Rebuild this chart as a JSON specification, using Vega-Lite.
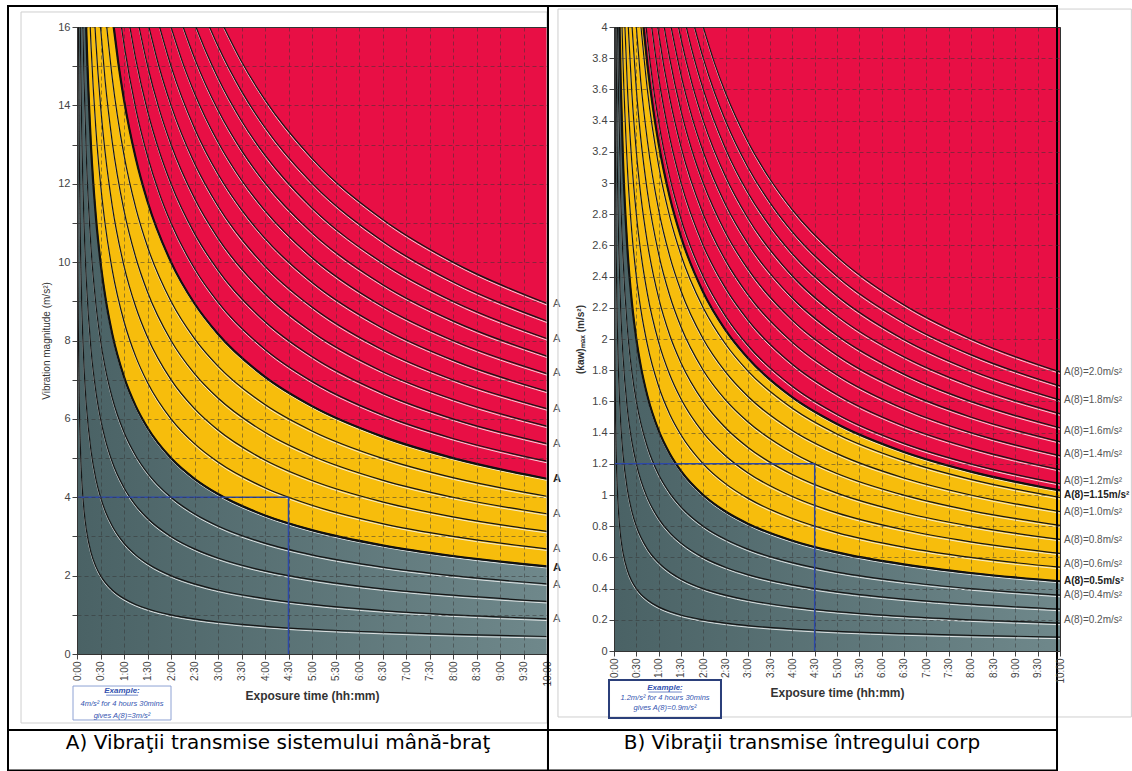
{
"$schema": "https://vega.github.io/schema/vega-lite/v6.json",
"padding": {"left": 6, "top": 4, "right": 0, "bottom": 0},
"bounds": "flush",
"spacing": 67,
"config": {"view": {"stroke": null}, "font": "Liberation Sans",
  "axis": {"labelColor": "#444", "tickColor": "#444", "domainColor": "#333", "gridColor": "#333", "gridOpacity": 0.5, "gridDash": [4, 3], "labelFontSize": 11, "tickSize": 5, "titleColor": "#333", "labelOverlap": false}},
"datasets": {
"L": [
{"k":0.5,"t":0.0078,"v":16},{"k":0.5,"t":0.01,"v":14.142},{"k":0.5,"t":0.02,"v":10},{"k":0.5,"t":0.03,"v":8.165},{"k":0.5,"t":0.05,"v":6.325},{"k":0.5,"t":0.075,"v":5.164},{"k":0.5,"t":0.1,"v":4.472},{"k":0.5,"t":0.15,"v":3.651},{"k":0.5,"t":0.2,"v":3.162},{"k":0.5,"t":0.3,"v":2.582},{"k":0.5,"t":0.4,"v":2.236},{"k":0.5,"t":0.5,"v":2},{"k":0.5,"t":0.6,"v":1.826},{"k":0.5,"t":0.75,"v":1.633},{"k":0.5,"t":1,"v":1.414},{"k":0.5,"t":1.25,"v":1.265},{"k":0.5,"t":1.5,"v":1.155},{"k":0.5,"t":2,"v":1},{"k":0.5,"t":2.5,"v":0.894},{"k":0.5,"t":3,"v":0.816},{"k":0.5,"t":4,"v":0.707},{"k":0.5,"t":5,"v":0.632},{"k":0.5,"t":6.5,"v":0.555},{"k":0.5,"t":8,"v":0.5},{"k":0.5,"t":10,"v":0.447},
{"k":1,"t":0.03125,"v":16},{"k":1,"t":0.05,"v":12.649},{"k":1,"t":0.075,"v":10.328},{"k":1,"t":0.1,"v":8.944},{"k":1,"t":0.15,"v":7.303},{"k":1,"t":0.2,"v":6.325},{"k":1,"t":0.3,"v":5.164},{"k":1,"t":0.4,"v":4.472},{"k":1,"t":0.5,"v":4},{"k":1,"t":0.6,"v":3.651},{"k":1,"t":0.75,"v":3.266},{"k":1,"t":1,"v":2.828},{"k":1,"t":1.25,"v":2.53},{"k":1,"t":1.5,"v":2.309},{"k":1,"t":2,"v":2},{"k":1,"t":2.5,"v":1.789},{"k":1,"t":3,"v":1.633},{"k":1,"t":4,"v":1.414},{"k":1,"t":5,"v":1.265},{"k":1,"t":6.5,"v":1.109},{"k":1,"t":8,"v":1},{"k":1,"t":10,"v":0.894},
{"k":1.5,"t":0.0703,"v":16},{"k":1.5,"t":0.075,"v":15.492},{"k":1.5,"t":0.1,"v":13.416},{"k":1.5,"t":0.15,"v":10.954},{"k":1.5,"t":0.2,"v":9.487},{"k":1.5,"t":0.3,"v":7.746},{"k":1.5,"t":0.4,"v":6.708},{"k":1.5,"t":0.5,"v":6},{"k":1.5,"t":0.6,"v":5.477},{"k":1.5,"t":0.75,"v":4.899},{"k":1.5,"t":1,"v":4.243},{"k":1.5,"t":1.25,"v":3.795},{"k":1.5,"t":1.5,"v":3.464},{"k":1.5,"t":2,"v":3},{"k":1.5,"t":2.5,"v":2.683},{"k":1.5,"t":3,"v":2.449},{"k":1.5,"t":4,"v":2.121},{"k":1.5,"t":5,"v":1.897},{"k":1.5,"t":6.5,"v":1.664},{"k":1.5,"t":8,"v":1.5},{"k":1.5,"t":10,"v":1.342},
{"k":2,"t":0.125,"v":16},{"k":2,"t":0.15,"v":14.606},{"k":2,"t":0.2,"v":12.649},{"k":2,"t":0.3,"v":10.328},{"k":2,"t":0.4,"v":8.944},{"k":2,"t":0.5,"v":8},{"k":2,"t":0.6,"v":7.303},{"k":2,"t":0.75,"v":6.532},{"k":2,"t":1,"v":5.657},{"k":2,"t":1.25,"v":5.06},{"k":2,"t":1.5,"v":4.619},{"k":2,"t":2,"v":4},{"k":2,"t":2.5,"v":3.578},{"k":2,"t":3,"v":3.266},{"k":2,"t":4,"v":2.828},{"k":2,"t":5,"v":2.53},{"k":2,"t":6.5,"v":2.219},{"k":2,"t":8,"v":2},{"k":2,"t":10,"v":1.789},
{"k":2.5,"t":0.1953,"v":16},{"k":2.5,"t":0.2,"v":15.811},{"k":2.5,"t":0.3,"v":12.91},{"k":2.5,"t":0.4,"v":11.18},{"k":2.5,"t":0.5,"v":10},{"k":2.5,"t":0.6,"v":9.129},{"k":2.5,"t":0.75,"v":8.165},{"k":2.5,"t":1,"v":7.071},{"k":2.5,"t":1.25,"v":6.325},{"k":2.5,"t":1.5,"v":5.774},{"k":2.5,"t":2,"v":5},{"k":2.5,"t":2.5,"v":4.472},{"k":2.5,"t":3,"v":4.082},{"k":2.5,"t":4,"v":3.536},{"k":2.5,"t":5,"v":3.162},{"k":2.5,"t":6.5,"v":2.774},{"k":2.5,"t":8,"v":2.5},{"k":2.5,"t":10,"v":2.236},
{"k":3,"t":0.28125,"v":16},{"k":3,"t":0.3,"v":15.492},{"k":3,"t":0.4,"v":13.416},{"k":3,"t":0.5,"v":12},{"k":3,"t":0.6,"v":10.954},{"k":3,"t":0.75,"v":9.798},{"k":3,"t":1,"v":8.485},{"k":3,"t":1.25,"v":7.589},{"k":3,"t":1.5,"v":6.928},{"k":3,"t":2,"v":6},{"k":3,"t":2.5,"v":5.367},{"k":3,"t":3,"v":4.899},{"k":3,"t":4,"v":4.243},{"k":3,"t":5,"v":3.795},{"k":3,"t":6.5,"v":3.328},{"k":3,"t":8,"v":3},{"k":3,"t":10,"v":2.683},
{"k":3.5,"t":0.3828,"v":16},{"k":3.5,"t":0.4,"v":15.652},{"k":3.5,"t":0.5,"v":14},{"k":3.5,"t":0.6,"v":12.78},{"k":3.5,"t":0.75,"v":11.431},{"k":3.5,"t":1,"v":9.899},{"k":3.5,"t":1.25,"v":8.854},{"k":3.5,"t":1.5,"v":8.083},{"k":3.5,"t":2,"v":7},{"k":3.5,"t":2.5,"v":6.261},{"k":3.5,"t":3,"v":5.715},{"k":3.5,"t":4,"v":4.95},{"k":3.5,"t":5,"v":4.427},{"k":3.5,"t":6.5,"v":3.883},{"k":3.5,"t":8,"v":3.5},{"k":3.5,"t":10,"v":3.13},
{"k":4,"t":0.5,"v":16},{"k":4,"t":0.6,"v":14.606},{"k":4,"t":0.75,"v":13.064},{"k":4,"t":1,"v":11.314},{"k":4,"t":1.25,"v":10.119},{"k":4,"t":1.5,"v":9.238},{"k":4,"t":2,"v":8},{"k":4,"t":2.5,"v":7.155},{"k":4,"t":3,"v":6.532},{"k":4,"t":4,"v":5.657},{"k":4,"t":5,"v":5.06},{"k":4,"t":6.5,"v":4.438},{"k":4,"t":8,"v":4},{"k":4,"t":10,"v":3.578},
{"k":4.5,"t":0.6328,"v":16},{"k":4.5,"t":0.75,"v":14.697},{"k":4.5,"t":1,"v":12.728},{"k":4.5,"t":1.25,"v":11.384},{"k":4.5,"t":1.5,"v":10.392},{"k":4.5,"t":2,"v":9},{"k":4.5,"t":2.5,"v":8.05},{"k":4.5,"t":3,"v":7.348},{"k":4.5,"t":4,"v":6.364},{"k":4.5,"t":5,"v":5.692},{"k":4.5,"t":6.5,"v":4.992},{"k":4.5,"t":8,"v":4.5},{"k":4.5,"t":10,"v":4.025},
{"k":5,"t":0.78125,"v":16},{"k":5,"t":0.875,"v":15.119},{"k":5,"t":1,"v":14.142},{"k":5,"t":1.25,"v":12.649},{"k":5,"t":1.5,"v":11.547},{"k":5,"t":2,"v":10},{"k":5,"t":2.5,"v":8.944},{"k":5,"t":3,"v":8.165},{"k":5,"t":4,"v":7.071},{"k":5,"t":5,"v":6.325},{"k":5,"t":6.5,"v":5.547},{"k":5,"t":8,"v":5},{"k":5,"t":10,"v":4.472},
{"k":5.5,"t":0.9453,"v":16},{"k":5.5,"t":1,"v":15.556},{"k":5.5,"t":1.25,"v":13.914},{"k":5.5,"t":1.5,"v":12.702},{"k":5.5,"t":1.75,"v":11.759},{"k":5.5,"t":2,"v":11},{"k":5.5,"t":2.5,"v":9.839},{"k":5.5,"t":3,"v":8.981},{"k":5.5,"t":4,"v":7.778},{"k":5.5,"t":5,"v":6.957},{"k":5.5,"t":6.5,"v":6.102},{"k":5.5,"t":8,"v":5.5},{"k":5.5,"t":10,"v":4.919},
{"k":6,"t":1.125,"v":16},{"k":6,"t":1.25,"v":15.179},{"k":6,"t":1.5,"v":13.856},{"k":6,"t":1.75,"v":12.828},{"k":6,"t":2,"v":12},{"k":6,"t":2.5,"v":10.733},{"k":6,"t":3,"v":9.798},{"k":6,"t":4,"v":8.485},{"k":6,"t":5,"v":7.589},{"k":6,"t":6.5,"v":6.657},{"k":6,"t":8,"v":6},{"k":6,"t":10,"v":5.367},
{"k":6.5,"t":1.3203,"v":16},{"k":6.5,"t":1.5,"v":15.011},{"k":6.5,"t":1.75,"v":13.897},{"k":6.5,"t":2,"v":13},{"k":6.5,"t":2.5,"v":11.628},{"k":6.5,"t":3,"v":10.614},{"k":6.5,"t":4,"v":9.192},{"k":6.5,"t":5,"v":8.222},{"k":6.5,"t":6.5,"v":7.211},{"k":6.5,"t":8,"v":6.5},{"k":6.5,"t":10,"v":5.814},
{"k":7,"t":1.53125,"v":16},{"k":7,"t":1.75,"v":14.966},{"k":7,"t":2,"v":14},{"k":7,"t":2.5,"v":12.522},{"k":7,"t":3,"v":11.431},{"k":7,"t":4,"v":9.899},{"k":7,"t":5,"v":8.854},{"k":7,"t":6.5,"v":7.766},{"k":7,"t":8,"v":7},{"k":7,"t":10,"v":6.261},
{"k":7.5,"t":1.7578,"v":16},{"k":7.5,"t":2,"v":15},{"k":7.5,"t":2.5,"v":13.416},{"k":7.5,"t":3,"v":12.247},{"k":7.5,"t":3.5,"v":11.339},{"k":7.5,"t":4,"v":10.607},{"k":7.5,"t":5,"v":9.487},{"k":7.5,"t":6.5,"v":8.321},{"k":7.5,"t":8,"v":7.5},{"k":7.5,"t":10,"v":6.708},
{"k":8,"t":2,"v":16},{"k":8,"t":2.25,"v":15.085},{"k":8,"t":2.5,"v":14.311},{"k":8,"t":3,"v":13.064},{"k":8,"t":3.5,"v":12.095},{"k":8,"t":4,"v":11.314},{"k":8,"t":5,"v":10.119},{"k":8,"t":6.5,"v":8.875},{"k":8,"t":8,"v":8},{"k":8,"t":10,"v":7.155},
{"k":8.5,"t":2.2578,"v":16},{"k":8.5,"t":2.5,"v":15.205},{"k":8.5,"t":3,"v":13.88},{"k":8.5,"t":3.5,"v":12.851},{"k":8.5,"t":4,"v":12.021},{"k":8.5,"t":5,"v":10.752},{"k":8.5,"t":6.5,"v":9.43},{"k":8.5,"t":8,"v":8.5},{"k":8.5,"t":10,"v":7.603},
{"k":9,"t":2.53125,"v":16},{"k":9,"t":2.75,"v":15.353},{"k":9,"t":3,"v":14.697},{"k":9,"t":3.5,"v":13.608},{"k":9,"t":4,"v":12.728},{"k":9,"t":5,"v":11.384},{"k":9,"t":6.5,"v":9.985},{"k":9,"t":8,"v":9},{"k":9,"t":10,"v":8.05},
{"k":9.5,"t":2.8203,"v":16},{"k":9.5,"t":3,"v":15.513},{"k":9.5,"t":3.5,"v":14.364},{"k":9.5,"t":4,"v":13.435},{"k":9.5,"t":5,"v":12.017},{"k":9.5,"t":6.5,"v":10.54},{"k":9.5,"t":8,"v":9.5},{"k":9.5,"t":10,"v":8.497},
{"k":10,"t":3.125,"v":16},{"k":10,"t":3.5,"v":15.119},{"k":10,"t":4,"v":14.142},{"k":10,"t":5,"v":12.649},{"k":10,"t":6.5,"v":11.094},{"k":10,"t":8,"v":10},{"k":10,"t":10,"v":8.944}
],
"R": [
{"k":0.1,"t":0.005,"v":4},{"k":0.1,"t":0.01,"v":2.828},{"k":0.1,"t":0.02,"v":2},{"k":0.1,"t":0.03,"v":1.633},{"k":0.1,"t":0.05,"v":1.265},{"k":0.1,"t":0.075,"v":1.033},{"k":0.1,"t":0.1,"v":0.894},{"k":0.1,"t":0.15,"v":0.73},{"k":0.1,"t":0.2,"v":0.632},{"k":0.1,"t":0.3,"v":0.516},{"k":0.1,"t":0.4,"v":0.447},{"k":0.1,"t":0.5,"v":0.4},{"k":0.1,"t":0.6,"v":0.365},{"k":0.1,"t":0.75,"v":0.327},{"k":0.1,"t":1,"v":0.283},{"k":0.1,"t":1.25,"v":0.253},{"k":0.1,"t":1.5,"v":0.231},{"k":0.1,"t":2,"v":0.2},{"k":0.1,"t":2.5,"v":0.179},{"k":0.1,"t":3,"v":0.163},{"k":0.1,"t":4,"v":0.141},{"k":0.1,"t":5,"v":0.126},{"k":0.1,"t":6.5,"v":0.111},{"k":0.1,"t":8,"v":0.1},{"k":0.1,"t":10,"v":0.089},
{"k":0.2,"t":0.02,"v":4},{"k":0.2,"t":0.03,"v":3.266},{"k":0.2,"t":0.05,"v":2.53},{"k":0.2,"t":0.075,"v":2.066},{"k":0.2,"t":0.1,"v":1.789},{"k":0.2,"t":0.15,"v":1.461},{"k":0.2,"t":0.2,"v":1.265},{"k":0.2,"t":0.3,"v":1.033},{"k":0.2,"t":0.4,"v":0.894},{"k":0.2,"t":0.5,"v":0.8},{"k":0.2,"t":0.6,"v":0.73},{"k":0.2,"t":0.75,"v":0.653},{"k":0.2,"t":1,"v":0.566},{"k":0.2,"t":1.25,"v":0.506},{"k":0.2,"t":1.5,"v":0.462},{"k":0.2,"t":2,"v":0.4},{"k":0.2,"t":2.5,"v":0.358},{"k":0.2,"t":3,"v":0.327},{"k":0.2,"t":4,"v":0.283},{"k":0.2,"t":5,"v":0.253},{"k":0.2,"t":6.5,"v":0.222},{"k":0.2,"t":8,"v":0.2},{"k":0.2,"t":10,"v":0.179},
{"k":0.3,"t":0.045,"v":4},{"k":0.3,"t":0.05,"v":3.795},{"k":0.3,"t":0.075,"v":3.098},{"k":0.3,"t":0.1,"v":2.683},{"k":0.3,"t":0.15,"v":2.191},{"k":0.3,"t":0.2,"v":1.897},{"k":0.3,"t":0.3,"v":1.549},{"k":0.3,"t":0.4,"v":1.342},{"k":0.3,"t":0.5,"v":1.2},{"k":0.3,"t":0.6,"v":1.095},{"k":0.3,"t":0.75,"v":0.98},{"k":0.3,"t":1,"v":0.849},{"k":0.3,"t":1.25,"v":0.759},{"k":0.3,"t":1.5,"v":0.693},{"k":0.3,"t":2,"v":0.6},{"k":0.3,"t":2.5,"v":0.537},{"k":0.3,"t":3,"v":0.49},{"k":0.3,"t":4,"v":0.424},{"k":0.3,"t":5,"v":0.379},{"k":0.3,"t":6.5,"v":0.333},{"k":0.3,"t":8,"v":0.3},{"k":0.3,"t":10,"v":0.268},
{"k":0.4,"t":0.08,"v":4},{"k":0.4,"t":0.1,"v":3.578},{"k":0.4,"t":0.15,"v":2.921},{"k":0.4,"t":0.2,"v":2.53},{"k":0.4,"t":0.3,"v":2.066},{"k":0.4,"t":0.4,"v":1.789},{"k":0.4,"t":0.5,"v":1.6},{"k":0.4,"t":0.6,"v":1.461},{"k":0.4,"t":0.75,"v":1.306},{"k":0.4,"t":1,"v":1.131},{"k":0.4,"t":1.25,"v":1.012},{"k":0.4,"t":1.5,"v":0.924},{"k":0.4,"t":2,"v":0.8},{"k":0.4,"t":2.5,"v":0.716},{"k":0.4,"t":3,"v":0.653},{"k":0.4,"t":4,"v":0.566},{"k":0.4,"t":5,"v":0.506},{"k":0.4,"t":6.5,"v":0.444},{"k":0.4,"t":8,"v":0.4},{"k":0.4,"t":10,"v":0.358},
{"k":0.5,"t":0.125,"v":4},{"k":0.5,"t":0.15,"v":3.651},{"k":0.5,"t":0.2,"v":3.162},{"k":0.5,"t":0.3,"v":2.582},{"k":0.5,"t":0.4,"v":2.236},{"k":0.5,"t":0.5,"v":2},{"k":0.5,"t":0.6,"v":1.826},{"k":0.5,"t":0.75,"v":1.633},{"k":0.5,"t":1,"v":1.414},{"k":0.5,"t":1.25,"v":1.265},{"k":0.5,"t":1.5,"v":1.155},{"k":0.5,"t":2,"v":1},{"k":0.5,"t":2.5,"v":0.894},{"k":0.5,"t":3,"v":0.816},{"k":0.5,"t":4,"v":0.707},{"k":0.5,"t":5,"v":0.632},{"k":0.5,"t":6.5,"v":0.555},{"k":0.5,"t":8,"v":0.5},{"k":0.5,"t":10,"v":0.447},
{"k":0.6,"t":0.18,"v":4},{"k":0.6,"t":0.2,"v":3.795},{"k":0.6,"t":0.3,"v":3.098},{"k":0.6,"t":0.4,"v":2.683},{"k":0.6,"t":0.5,"v":2.4},{"k":0.6,"t":0.6,"v":2.191},{"k":0.6,"t":0.75,"v":1.96},{"k":0.6,"t":1,"v":1.697},{"k":0.6,"t":1.25,"v":1.518},{"k":0.6,"t":1.5,"v":1.386},{"k":0.6,"t":2,"v":1.2},{"k":0.6,"t":2.5,"v":1.073},{"k":0.6,"t":3,"v":0.98},{"k":0.6,"t":4,"v":0.849},{"k":0.6,"t":5,"v":0.759},{"k":0.6,"t":6.5,"v":0.666},{"k":0.6,"t":8,"v":0.6},{"k":0.6,"t":10,"v":0.537},
{"k":0.7,"t":0.245,"v":4},{"k":0.7,"t":0.3,"v":3.615},{"k":0.7,"t":0.4,"v":3.13},{"k":0.7,"t":0.5,"v":2.8},{"k":0.7,"t":0.6,"v":2.556},{"k":0.7,"t":0.75,"v":2.286},{"k":0.7,"t":1,"v":1.98},{"k":0.7,"t":1.25,"v":1.771},{"k":0.7,"t":1.5,"v":1.617},{"k":0.7,"t":2,"v":1.4},{"k":0.7,"t":2.5,"v":1.252},{"k":0.7,"t":3,"v":1.143},{"k":0.7,"t":4,"v":0.99},{"k":0.7,"t":5,"v":0.885},{"k":0.7,"t":6.5,"v":0.777},{"k":0.7,"t":8,"v":0.7},{"k":0.7,"t":10,"v":0.626},
{"k":0.8,"t":0.32,"v":4},{"k":0.8,"t":0.4,"v":3.578},{"k":0.8,"t":0.5,"v":3.2},{"k":0.8,"t":0.6,"v":2.921},{"k":0.8,"t":0.75,"v":2.613},{"k":0.8,"t":1,"v":2.263},{"k":0.8,"t":1.25,"v":2.024},{"k":0.8,"t":1.5,"v":1.848},{"k":0.8,"t":2,"v":1.6},{"k":0.8,"t":2.5,"v":1.431},{"k":0.8,"t":3,"v":1.306},{"k":0.8,"t":4,"v":1.131},{"k":0.8,"t":5,"v":1.012},{"k":0.8,"t":6.5,"v":0.888},{"k":0.8,"t":8,"v":0.8},{"k":0.8,"t":10,"v":0.716},
{"k":0.9,"t":0.405,"v":4},{"k":0.9,"t":0.5,"v":3.6},{"k":0.9,"t":0.6,"v":3.286},{"k":0.9,"t":0.75,"v":2.939},{"k":0.9,"t":1,"v":2.546},{"k":0.9,"t":1.25,"v":2.277},{"k":0.9,"t":1.5,"v":2.078},{"k":0.9,"t":2,"v":1.8},{"k":0.9,"t":2.5,"v":1.61},{"k":0.9,"t":3,"v":1.47},{"k":0.9,"t":4,"v":1.273},{"k":0.9,"t":5,"v":1.138},{"k":0.9,"t":6.5,"v":0.999},{"k":0.9,"t":8,"v":0.9},{"k":0.9,"t":10,"v":0.805},
{"k":1,"t":0.5,"v":4},{"k":1,"t":0.6,"v":3.651},{"k":1,"t":0.75,"v":3.266},{"k":1,"t":1,"v":2.828},{"k":1,"t":1.25,"v":2.53},{"k":1,"t":1.5,"v":2.309},{"k":1,"t":2,"v":2},{"k":1,"t":2.5,"v":1.789},{"k":1,"t":3,"v":1.633},{"k":1,"t":4,"v":1.414},{"k":1,"t":5,"v":1.265},{"k":1,"t":6.5,"v":1.109},{"k":1,"t":8,"v":1},{"k":1,"t":10,"v":0.894},
{"k":1.1,"t":0.605,"v":4},{"k":1.1,"t":0.75,"v":3.592},{"k":1.1,"t":1,"v":3.111},{"k":1.1,"t":1.25,"v":2.783},{"k":1.1,"t":1.5,"v":2.54},{"k":1.1,"t":2,"v":2.2},{"k":1.1,"t":2.5,"v":1.968},{"k":1.1,"t":3,"v":1.796},{"k":1.1,"t":4,"v":1.556},{"k":1.1,"t":5,"v":1.391},{"k":1.1,"t":6.5,"v":1.22},{"k":1.1,"t":8,"v":1.1},{"k":1.1,"t":10,"v":0.984},
{"k":1.15,"t":0.66125,"v":4},{"k":1.15,"t":0.75,"v":3.756},{"k":1.15,"t":0.875,"v":3.478},{"k":1.15,"t":1,"v":3.253},{"k":1.15,"t":1.25,"v":2.91},{"k":1.15,"t":1.5,"v":2.656},{"k":1.15,"t":2,"v":2.3},{"k":1.15,"t":2.5,"v":2.057},{"k":1.15,"t":3,"v":1.878},{"k":1.15,"t":4,"v":1.626},{"k":1.15,"t":5,"v":1.455},{"k":1.15,"t":6.5,"v":1.276},{"k":1.15,"t":8,"v":1.15},{"k":1.15,"t":10,"v":1.029},
{"k":1.2,"t":0.72,"v":4},{"k":1.2,"t":0.75,"v":3.919},{"k":1.2,"t":0.875,"v":3.629},{"k":1.2,"t":1,"v":3.394},{"k":1.2,"t":1.25,"v":3.036},{"k":1.2,"t":1.5,"v":2.771},{"k":1.2,"t":2,"v":2.4},{"k":1.2,"t":2.5,"v":2.147},{"k":1.2,"t":3,"v":1.96},{"k":1.2,"t":4,"v":1.697},{"k":1.2,"t":5,"v":1.518},{"k":1.2,"t":6.5,"v":1.331},{"k":1.2,"t":8,"v":1.2},{"k":1.2,"t":10,"v":1.073},
{"k":1.3,"t":0.845,"v":4},{"k":1.3,"t":1,"v":3.677},{"k":1.3,"t":1.25,"v":3.289},{"k":1.3,"t":1.5,"v":3.002},{"k":1.3,"t":2,"v":2.6},{"k":1.3,"t":2.5,"v":2.326},{"k":1.3,"t":3,"v":2.123},{"k":1.3,"t":4,"v":1.838},{"k":1.3,"t":5,"v":1.644},{"k":1.3,"t":6.5,"v":1.442},{"k":1.3,"t":8,"v":1.3},{"k":1.3,"t":10,"v":1.163},
{"k":1.4,"t":0.98,"v":4},{"k":1.4,"t":1,"v":3.96},{"k":1.4,"t":1.25,"v":3.542},{"k":1.4,"t":1.5,"v":3.233},{"k":1.4,"t":2,"v":2.8},{"k":1.4,"t":2.5,"v":2.504},{"k":1.4,"t":3,"v":2.286},{"k":1.4,"t":4,"v":1.98},{"k":1.4,"t":5,"v":1.771},{"k":1.4,"t":6.5,"v":1.553},{"k":1.4,"t":8,"v":1.4},{"k":1.4,"t":10,"v":1.252},
{"k":1.5,"t":1.125,"v":4},{"k":1.5,"t":1.25,"v":3.795},{"k":1.5,"t":1.5,"v":3.464},{"k":1.5,"t":1.75,"v":3.207},{"k":1.5,"t":2,"v":3},{"k":1.5,"t":2.5,"v":2.683},{"k":1.5,"t":3,"v":2.449},{"k":1.5,"t":4,"v":2.121},{"k":1.5,"t":5,"v":1.897},{"k":1.5,"t":6.5,"v":1.664},{"k":1.5,"t":8,"v":1.5},{"k":1.5,"t":10,"v":1.342},
{"k":1.6,"t":1.28,"v":4},{"k":1.6,"t":1.5,"v":3.695},{"k":1.6,"t":1.75,"v":3.421},{"k":1.6,"t":2,"v":3.2},{"k":1.6,"t":2.5,"v":2.862},{"k":1.6,"t":3,"v":2.613},{"k":1.6,"t":4,"v":2.263},{"k":1.6,"t":5,"v":2.024},{"k":1.6,"t":6.5,"v":1.775},{"k":1.6,"t":8,"v":1.6},{"k":1.6,"t":10,"v":1.431},
{"k":1.7,"t":1.445,"v":4},{"k":1.7,"t":1.5,"v":3.926},{"k":1.7,"t":1.75,"v":3.635},{"k":1.7,"t":2,"v":3.4},{"k":1.7,"t":2.5,"v":3.041},{"k":1.7,"t":3,"v":2.776},{"k":1.7,"t":4,"v":2.404},{"k":1.7,"t":5,"v":2.15},{"k":1.7,"t":6.5,"v":1.886},{"k":1.7,"t":8,"v":1.7},{"k":1.7,"t":10,"v":1.521},
{"k":1.8,"t":1.62,"v":4},{"k":1.8,"t":1.75,"v":3.848},{"k":1.8,"t":2,"v":3.6},{"k":1.8,"t":2.5,"v":3.22},{"k":1.8,"t":3,"v":2.939},{"k":1.8,"t":3.5,"v":2.722},{"k":1.8,"t":4,"v":2.546},{"k":1.8,"t":5,"v":2.277},{"k":1.8,"t":6.5,"v":1.997},{"k":1.8,"t":8,"v":1.8},{"k":1.8,"t":10,"v":1.61},
{"k":1.9,"t":1.805,"v":4},{"k":1.9,"t":2,"v":3.8},{"k":1.9,"t":2.25,"v":3.583},{"k":1.9,"t":2.5,"v":3.399},{"k":1.9,"t":3,"v":3.103},{"k":1.9,"t":3.5,"v":2.873},{"k":1.9,"t":4,"v":2.687},{"k":1.9,"t":5,"v":2.403},{"k":1.9,"t":6.5,"v":2.108},{"k":1.9,"t":8,"v":1.9},{"k":1.9,"t":10,"v":1.699},
{"k":2,"t":2,"v":4},{"k":2,"t":2.25,"v":3.772},{"k":2,"t":2.5,"v":3.578},{"k":2,"t":3,"v":3.266},{"k":2,"t":3.5,"v":3.024},{"k":2,"t":4,"v":2.828},{"k":2,"t":5,"v":2.53},{"k":2,"t":6.5,"v":2.219},{"k":2,"t":8,"v":2},{"k":2,"t":10,"v":1.789}
],
"LB": [
{"b":"y","t":0,"v":40},{"b":"y","t":0.3,"v":25.82},{"b":"y","t":0.5,"v":20},{"b":"y","t":0.6,"v":18.257},{"b":"y","t":0.75,"v":16.33},{"b":"y","t":0.875,"v":15.119},{"b":"y","t":1,"v":14.142},{"b":"y","t":1.25,"v":12.649},{"b":"y","t":1.5,"v":11.547},{"b":"y","t":2,"v":10},{"b":"y","t":2.5,"v":8.944},{"b":"y","t":3,"v":8.165},{"b":"y","t":4,"v":7.071},{"b":"y","t":5,"v":6.325},{"b":"y","t":6.5,"v":5.547},{"b":"y","t":8,"v":5},{"b":"y","t":10,"v":4.472},
{"b":"g","t":0,"v":40},{"b":"g","t":0.075,"v":25.82},{"b":"g","t":0.1,"v":22.36},{"b":"g","t":0.15,"v":18.257},{"b":"g","t":0.2,"v":15.811},{"b":"g","t":0.3,"v":12.91},{"b":"g","t":0.4,"v":11.18},{"b":"g","t":0.5,"v":10},{"b":"g","t":0.6,"v":9.129},{"b":"g","t":0.75,"v":8.165},{"b":"g","t":1,"v":7.071},{"b":"g","t":1.25,"v":6.325},{"b":"g","t":1.5,"v":5.774},{"b":"g","t":2,"v":5},{"b":"g","t":2.5,"v":4.472},{"b":"g","t":3,"v":4.082},{"b":"g","t":4,"v":3.536},{"b":"g","t":5,"v":3.162},{"b":"g","t":6.5,"v":2.774},{"b":"g","t":8,"v":2.5},{"b":"g","t":10,"v":2.236}
],
"RB": [
{"b":"y","t":0,"v":10},{"b":"y","t":0.3,"v":5.939},{"b":"y","t":0.5,"v":4.6},{"b":"y","t":0.6,"v":4.199},{"b":"y","t":0.75,"v":3.756},{"b":"y","t":0.875,"v":3.478},{"b":"y","t":1,"v":3.253},{"b":"y","t":1.25,"v":2.91},{"b":"y","t":1.5,"v":2.656},{"b":"y","t":2,"v":2.3},{"b":"y","t":2.5,"v":2.057},{"b":"y","t":3,"v":1.878},{"b":"y","t":4,"v":1.626},{"b":"y","t":5,"v":1.455},{"b":"y","t":6.5,"v":1.276},{"b":"y","t":8,"v":1.15},{"b":"y","t":10,"v":1.029},
{"b":"g","t":0,"v":10},{"b":"g","t":0.075,"v":5.164},{"b":"g","t":0.1,"v":4.472},{"b":"g","t":0.15,"v":3.651},{"b":"g","t":0.2,"v":3.162},{"b":"g","t":0.3,"v":2.582},{"b":"g","t":0.4,"v":2.236},{"b":"g","t":0.5,"v":2},{"b":"g","t":0.6,"v":1.826},{"b":"g","t":0.75,"v":1.633},{"b":"g","t":1,"v":1.414},{"b":"g","t":1.25,"v":1.265},{"b":"g","t":1.5,"v":1.155},{"b":"g","t":2,"v":1},{"b":"g","t":2.5,"v":0.894},{"b":"g","t":3,"v":0.816},{"b":"g","t":4,"v":0.707},{"b":"g","t":5,"v":0.632},{"b":"g","t":6.5,"v":0.555},{"b":"g","t":8,"v":0.5},{"b":"g","t":10,"v":0.447}
],
"LL": [
{"k":10,"lab":"A","v":8.94},{"k":9,"lab":"A","v":8.05},{"k":8,"lab":"A","v":7.16},{"k":7,"lab":"A","v":6.26},{"k":6,"lab":"A","v":5.37},{"k":5,"lab":"A","v":4.47},{"k":4,"lab":"A","v":3.58},{"k":3,"lab":"A","v":2.68},{"k":2.5,"lab":"A","v":2.2},{"k":2,"lab":"A","v":1.75},{"k":1,"lab":"A","v":0.89}
],
"RL": [
{"k":2,"lab":"A(8)=2.0m/s²","v":1.79},{"k":1.8,"lab":"A(8)=1.8m/s²","v":1.61},{"k":1.6,"lab":"A(8)=1.6m/s²","v":1.41},{"k":1.4,"lab":"A(8)=1.4m/s²","v":1.26},{"k":1.2,"lab":"A(8)=1.2m/s²","v":1.09},{"k":1.15,"lab":"A(8)=1.15m/s²","v":1.0},{"k":1,"lab":"A(8)=1.0m/s²","v":0.89},{"k":0.8,"lab":"A(8)=0.8m/s²","v":0.71},{"k":0.6,"lab":"A(8)=0.6m/s²","v":0.556},{"k":0.5,"lab":"A(8)=0.5m/s²","v":0.45},{"k":0.4,"lab":"A(8)=0.4m/s²","v":0.36},{"k":0.2,"lab":"A(8)=0.2m/s²","v":0.2}
]
},
"hconcat": [
{
"width": 470, "height": 627,
"view": {"fill": "#e80f45", "stroke": "#333"},
"layer": [
{"data": {"name": "LB"}, "transform": [{"filter": "datum.b=='y'"}],
 "mark": {"type": "area", "color": "#f7bd0c", "interpolate": "monotone", "clip": true},
 "encoding": {
  "x": {"field": "t", "type": "quantitative", "scale": {"domain": [0, 10], "nice": false, "zero": false},
   "axis": {"title": "Exposure time (hh:mm)", "values": [0,0.5,1,1.5,2,2.5,3,3.5,4,4.5,5,5.5,6,6.5,7,7.5,8,8.5,9,9.5,10], "tickCount": 30, "labelExpr": "floor(datum.value) + ':' + (datum.value % 1 ? '30' : '00')", "labelAngle": -90, "labelFontSize": 10, "titleFontSize": 12, "titleFontWeight": "bold", "titlePadding": 4, "zindex": 1}},
  "y": {"field": "v", "type": "quantitative", "scale": {"domain": [0, 16], "nice": false},
   "axis": {"title": "Vibration magnitude (m/s²)", "values": [0,1,2,3,4,5,6,7,8,9,10,11,12,13,14,15,16], "tickCount": 30, "format": "d", "labelExpr": "datum.value % 2 ? '' : datum.label", "titleFontSize": 10, "titleFontWeight": "normal", "titlePadding": 6, "zindex": 1}},
  "y2": {"datum": 0}}},
{"data": {"name": "LB"}, "transform": [{"filter": "datum.b=='g'"}],
 "mark": {"type": "area", "interpolate": "monotone", "clip": true,
  "color": {"gradient": "linear", "x1": 0, "y1": 0, "x2": 1, "y2": 0, "stops": [{"offset": 0, "color": "#4a6265"}, {"offset": 1, "color": "#6f888b"}]}},
 "encoding": {"x": {"field": "t", "type": "quantitative"}, "y": {"field": "v", "type": "quantitative"}, "y2": {"datum": 0}}},
{"data": {"name": "L"},
 "mark": {"type": "line", "color": "#f4f4f4", "strokeWidth": 1, "yOffset": 1.6, "interpolate": "monotone", "clip": true, "opacity": 0.85},
 "encoding": {"x": {"field": "t", "type": "quantitative"}, "y": {"field": "v", "type": "quantitative"}, "detail": {"field": "k"}}},
{"data": {"name": "L"},
 "mark": {"type": "line", "color": "#151515", "strokeWidth": 1.2, "interpolate": "monotone", "clip": true},
 "encoding": {"x": {"field": "t", "type": "quantitative"}, "y": {"field": "v", "type": "quantitative"}, "detail": {"field": "k"}}},
{"data": {"name": "L"}, "transform": [{"filter": "datum.k==2.5 || datum.k==5"}],
 "mark": {"type": "line", "color": "#111", "strokeWidth": 2.2, "interpolate": "monotone", "clip": true},
 "encoding": {"x": {"field": "t", "type": "quantitative"}, "y": {"field": "v", "type": "quantitative"}, "detail": {"field": "k"}}},
{"data": {"values": [{}]}, "mark": {"type": "rule", "color": "#2c48a8", "strokeWidth": 1.5},
 "encoding": {"x": {"datum": 0}, "x2": {"datum": 4.5}, "y": {"datum": 4}}},
{"data": {"values": [{}]}, "mark": {"type": "rule", "color": "#2c48a8", "strokeWidth": 1.5},
 "encoding": {"x": {"datum": 4.5}, "y": {"datum": 0}, "y2": {"datum": 4}}},
{"data": {"name": "LL"}, "transform": [{"filter": "datum.k!=5 && datum.k!=2.5"}],
 "mark": {"type": "text", "align": "left", "dx": 6, "fontSize": 11, "color": "#555"},
 "encoding": {"x": {"datum": 10}, "y": {"field": "v", "type": "quantitative"}, "text": {"field": "lab"}}},
{"data": {"name": "LL"}, "transform": [{"filter": "datum.k==5 || datum.k==2.5"}],
 "mark": {"type": "text", "align": "left", "dx": 6, "fontSize": 11, "fontWeight": "bold", "color": "#222"},
 "encoding": {"x": {"datum": 10}, "y": {"field": "v", "type": "quantitative"}, "text": {"field": "lab"}}},
{"data": {"values": [{}]}, "mark": {"type": "rect", "filled": false, "color": "#cfcfcf", "strokeWidth": 1},
 "encoding": {"x": {"datum": -1.191}, "x2": {"datum": 10}, "y": {"datum": 16.383}, "y2": {"datum": -1.761}}},
{"data": {"values": [{}]}, "mark": {"type": "rect", "filled": false, "color": "#8ea2d4", "strokeWidth": 1},
 "encoding": {"x": {"datum": -0.085}, "x2": {"datum": 2.0}, "y": {"datum": -0.817}, "y2": {"datum": -1.684}}},
{"data": {"values": [{}]}, "mark": {"type": "text", "text": "Example:", "fontSize": 8, "fontStyle": "italic", "fontWeight": "bold", "color": "#3454b0"},
 "encoding": {"x": {"datum": 0.957}, "y": {"datum": -0.944}}},
{"data": {"values": [{}]}, "mark": {"type": "rule", "color": "#3454b0", "strokeWidth": 0.7},
 "encoding": {"x": {"datum": 0.62}, "x2": {"datum": 1.3}, "y": {"datum": -1.05}}},
{"data": {"values": [{}]}, "mark": {"type": "text", "text": "4m/s² for 4 hours 30mins", "fontSize": 7.5, "fontStyle": "italic", "color": "#3454b0"},
 "encoding": {"x": {"datum": 0.957}, "y": {"datum": -1.276}}},
{"data": {"values": [{}]}, "mark": {"type": "text", "text": "gives A(8)=3m/s²", "fontSize": 7.5, "fontStyle": "italic", "color": "#3454b0"},
 "encoding": {"x": {"datum": 0.957}, "y": {"datum": -1.57}}},
{"data": {"values": [{}]}, "mark": {"type": "rect", "filled": false, "color": "#000", "strokeWidth": 2},
 "encoding": {"x": {"datum": -1.468}, "x2": {"datum": 10.021}, "y": {"datum": 16.536}, "y2": {"datum": -2.973}}},
{"data": {"values": [{}]}, "mark": {"type": "rule", "color": "#000", "strokeWidth": 2},
 "encoding": {"x": {"datum": -1.468}, "x2": {"datum": 10.021}, "y": {"datum": -1.939}}},
{"data": {"values": [{}]}, "mark": {"type": "text", "text": "A) Vibraţii transmise sistemului mână-braţ", "font": "DejaVu Sans", "fontSize": 20, "color": "#000"},
 "encoding": {"x": {"datum": 4.277}, "y": {"datum": -2.271}}}
]
},
{
"width": 446, "height": 624,
"view": {"fill": "#e80f45", "stroke": "#333"},
"layer": [
{"data": {"name": "RB"}, "transform": [{"filter": "datum.b=='y'"}],
 "mark": {"type": "area", "color": "#f7bd0c", "interpolate": "monotone", "clip": true},
 "encoding": {
  "x": {"field": "t", "type": "quantitative", "scale": {"domain": [0, 10], "nice": false, "zero": false},
   "axis": {"title": "Exposure time (hh:mm)", "values": [0,0.5,1,1.5,2,2.5,3,3.5,4,4.5,5,5.5,6,6.5,7,7.5,8,8.5,9,9.5,10], "tickCount": 30, "labelExpr": "floor(datum.value) + ':' + (datum.value % 1 ? '30' : '00')", "labelAngle": -90, "labelFontSize": 10, "titleFontSize": 12, "titleFontWeight": "bold", "titlePadding": 4, "zindex": 1}},
  "y": {"field": "v", "type": "quantitative", "scale": {"domain": [0, 4], "nice": false},
   "axis": {"title": "(kaw)ₘₐₓ (m/s²)", "values": [0,0.2,0.4,0.6,0.8,1,1.2,1.4,1.6,1.8,2,2.2,2.4,2.6,2.8,3,3.2,3.4,3.6,3.8,4], "tickCount": 30, "format": "~g", "titleFontSize": 10, "titleFontWeight": "bold", "titlePadding": 6, "zindex": 1}},
  "y2": {"datum": 0}}},
{"data": {"name": "RB"}, "transform": [{"filter": "datum.b=='g'"}],
 "mark": {"type": "area", "interpolate": "monotone", "clip": true,
  "color": {"gradient": "linear", "x1": 0, "y1": 0, "x2": 1, "y2": 0, "stops": [{"offset": 0, "color": "#4a6265"}, {"offset": 1, "color": "#6f888b"}]}},
 "encoding": {"x": {"field": "t", "type": "quantitative"}, "y": {"field": "v", "type": "quantitative"}, "y2": {"datum": 0}}},
{"data": {"name": "R"},
 "mark": {"type": "line", "color": "#f4f4f4", "strokeWidth": 1, "yOffset": 1.6, "interpolate": "monotone", "clip": true, "opacity": 0.85},
 "encoding": {"x": {"field": "t", "type": "quantitative"}, "y": {"field": "v", "type": "quantitative"}, "detail": {"field": "k"}}},
{"data": {"name": "R"},
 "mark": {"type": "line", "color": "#151515", "strokeWidth": 1.2, "interpolate": "monotone", "clip": true},
 "encoding": {"x": {"field": "t", "type": "quantitative"}, "y": {"field": "v", "type": "quantitative"}, "detail": {"field": "k"}}},
{"data": {"name": "R"}, "transform": [{"filter": "datum.k==0.5 || datum.k==1.15"}],
 "mark": {"type": "line", "color": "#111", "strokeWidth": 2.2, "interpolate": "monotone", "clip": true},
 "encoding": {"x": {"field": "t", "type": "quantitative"}, "y": {"field": "v", "type": "quantitative"}, "detail": {"field": "k"}}},
{"data": {"values": [{}]}, "mark": {"type": "rule", "color": "#2c48a8", "strokeWidth": 1.5},
 "encoding": {"x": {"datum": 0}, "x2": {"datum": 4.5}, "y": {"datum": 1.2}}},
{"data": {"values": [{}]}, "mark": {"type": "rule", "color": "#2c48a8", "strokeWidth": 1.5},
 "encoding": {"x": {"datum": 4.5}, "y": {"datum": 0}, "y2": {"datum": 1.2}}},
{"data": {"name": "RL"}, "transform": [{"filter": "datum.k!=1.15 && datum.k!=0.5"}],
 "mark": {"type": "text", "align": "left", "dx": 4, "fontSize": 10, "color": "#555"},
 "encoding": {"x": {"datum": 10}, "y": {"field": "v", "type": "quantitative"}, "text": {"field": "lab"}}},
{"data": {"name": "RL"}, "transform": [{"filter": "datum.k==1.15 || datum.k==0.5"}],
 "mark": {"type": "text", "align": "left", "dx": 4, "fontSize": 10, "fontWeight": "bold", "color": "#222"},
 "encoding": {"x": {"datum": 10}, "y": {"field": "v", "type": "quantitative"}, "text": {"field": "lab"}}},
{"data": {"values": [{}]}, "mark": {"type": "rect", "filled": false, "color": "#cfcfcf", "strokeWidth": 1},
 "encoding": {"x": {"datum": -1.256}, "x2": {"datum": 11.6}, "y": {"datum": 4.115}, "y2": {"datum": -0.423}}},
{"data": {"values": [{}]}, "mark": {"type": "rect", "filled": false, "color": "#2b3f7a", "strokeWidth": 2},
 "encoding": {"x": {"datum": -0.112}, "x2": {"datum": 2.399}, "y": {"datum": -0.186}, "y2": {"datum": -0.429}}},
{"data": {"values": [{}]}, "mark": {"type": "text", "text": "Example:", "fontSize": 8, "fontStyle": "italic", "fontWeight": "bold", "color": "#3454b0"},
 "encoding": {"x": {"datum": 1.143}, "y": {"datum": -0.237}}},
{"data": {"values": [{}]}, "mark": {"type": "rule", "color": "#3454b0", "strokeWidth": 0.7},
 "encoding": {"x": {"datum": 0.77}, "x2": {"datum": 1.52}, "y": {"datum": -0.263}}},
{"data": {"values": [{}]}, "mark": {"type": "text", "text": "1.2m/s² for 4 hours 30mins", "fontSize": 7.5, "fontStyle": "italic", "color": "#3454b0"},
 "encoding": {"x": {"datum": 1.143}, "y": {"datum": -0.301}}},
{"data": {"values": [{}]}, "mark": {"type": "text", "text": "gives A(8)=0.9m/s²", "fontSize": 7.5, "fontStyle": "italic", "color": "#3454b0"},
 "encoding": {"x": {"datum": 1.143}, "y": {"datum": -0.365}}},
{"data": {"values": [{}]}, "mark": {"type": "rect", "filled": false, "color": "#000", "strokeWidth": 2},
 "encoding": {"x": {"datum": -1.48}, "x2": {"datum": 9.933}, "y": {"datum": 4.135}, "y2": {"datum": -0.766}}},
{"data": {"values": [{}]}, "mark": {"type": "rule", "color": "#000", "strokeWidth": 2},
 "encoding": {"x": {"datum": -1.48}, "x2": {"datum": 9.933}, "y": {"datum": -0.506}}},
{"data": {"values": [{}]}, "mark": {"type": "text", "text": "B) Vibraţii transmise întregului corp", "font": "DejaVu Sans", "fontSize": 20, "color": "#000"},
 "encoding": {"x": {"datum": 4.215}, "y": {"datum": -0.59}}}
]
}
]
}
